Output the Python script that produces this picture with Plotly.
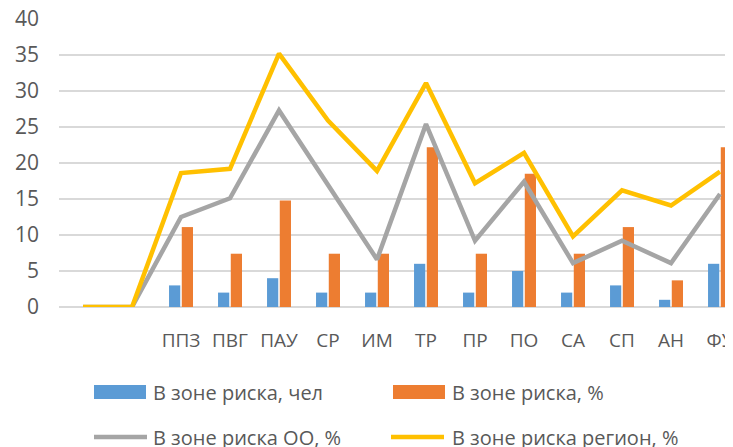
import plotly.graph_objects as go

categories = ["", "", "ППЗ", "ПВГ", "ПАУ", "СР", "ИМ", "ТР", "ПР", "ПО", "СА", "СП", "АН", "ФУ"]
risk_people = [None, None, 3, 2, 4, 2, 2, 6, 2, 5, 2, 3, 1, 6]
risk_pct = [None, None, 11.1, 7.4, 14.8, 7.4, 7.4, 22.2, 7.4, 18.5, 7.4, 11.1, 3.7, 22.2]
risk_oo_pct = [0, 0, 12.5, 15.1, 27.3, 17.0, 6.6, 25.4, 9.2, 17.4, 6.1, 9.2, 6.1, 15.7]
risk_region_pct = [0, 0, 18.6, 19.2, 35.2, 25.9, 18.9, 31.1, 17.2, 21.4, 9.8, 16.2, 14.1, 18.8]

series_names = ["В зоне риска, чел", "В зоне риска, %", "В зоне риска ОО, %", "В зоне риска регион, %"]
colors = ["#5B9BD5", "#ED7D31", "#A5A5A5", "#FFC000"]

FONT = "'Open Sans', 'Noto Sans', Arial"
x = list(range(len(categories)))

fig = go.Figure()
fig.add_bar(x=x, y=risk_people, name=series_names[0], marker_color=colors[0], marker_line_width=0)
fig.add_bar(x=x, y=risk_pct, name=series_names[1], marker_color=colors[1], marker_line_width=0)
fig.add_scatter(x=x, y=risk_oo_pct, name=series_names[2], mode="lines",
                line=dict(color=colors[2], width=4.5))
fig.add_scatter(x=x, y=risk_region_pct, name=series_names[3], mode="lines",
                line=dict(color=colors[3], width=4.5))

# page has an 8px body margin; layout numbers below are in figure pixels
OFF = 8
W, H = 733, 447
L, T = 59 - OFF, 19 - OFF
plot_h = 288
B = H - T - plot_h
plot_w = W - L
CAT_PX = 49


def px_x(p):
    return (p - OFF - L) / plot_w


def px_y(p):
    return (H - B - (p - OFF)) / plot_h


shapes = []
annotations = []
legend_items = [
    (0, "rect", 94, 392, 151),
    (1, "rect", 393, 392, 450),
    (2, "line", 94, 437, 151),
    (3, "line", 391, 437, 450),
]
for idx, kind, sx, sy, tx in legend_items:
    if kind == "rect":
        shapes.append(dict(type="rect", xref="paper", yref="paper",
                           x0=px_x(sx), x1=px_x(sx + 52), y0=px_y(sy - 7), y1=px_y(sy + 7),
                           fillcolor=colors[idx], line=dict(width=0)))
    else:
        shapes.append(dict(type="line", xref="paper", yref="paper",
                           x0=px_x(sx), x1=px_x(sx + 53), y0=px_y(sy), y1=px_y(sy),
                           line=dict(color=colors[idx], width=4.5)))
    annotations.append(dict(text=series_names[idx], xref="paper", yref="paper",
                            x=px_x(tx), y=px_y(sy), xanchor="left", yanchor="middle",
                            showarrow=False, font=dict(family=FONT, size=20, color="#595959")))

fig.update_layout(
    width=W, height=H,
    margin=dict(l=L, r=0, t=T, b=B, autoexpand=False),
    paper_bgcolor="white", plot_bgcolor="white",
    barmode="group", bargap=0.48, bargroupgap=0.12,
    showlegend=False,
    shapes=shapes, annotations=annotations,
    font=dict(family=FONT, color="#595959", size=18),
)
fig.update_xaxes(range=[-0.49, plot_w / CAT_PX - 0.49], tickvals=x, ticktext=categories,
                 showgrid=False, zeroline=False, showline=False, ticks="", automargin=False,
                 ticklabelstandoff=20, ticklabeloverflow="allow",
                 tickfont=dict(size=19, color="#595959"))
fig.update_yaxes(range=[0, 40], dtick=5, showgrid=True, gridcolor="#D9D9D9", gridwidth=1.5,
                 zeroline=True, zerolinecolor="#D9D9D9", zerolinewidth=1.5, automargin=False,
                 ticks="", ticklabelstandoff=19, ticklabeloverflow="allow",
                 tickfont=dict(size=21, color="#595959"))

fig.write_html("out.html")
